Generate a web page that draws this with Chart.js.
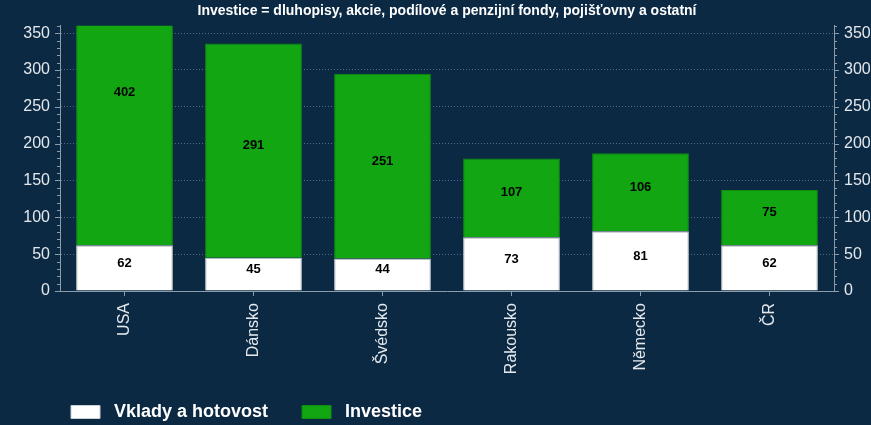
<!DOCTYPE html>
<html>
<head>
<meta charset="utf-8">
<script src="https://cdn.jsdelivr.net/npm/chart.js@4"></script>
<style>
html, body { margin: 0; padding: 0; background: #0b2943; }
#wrap { width: 871px; height: 425px; }
</style>
</head>
<body>
<div id="wrap"><canvas id="chart"></canvas></div>
<script>
const categories = ['USA', 'Dánsko', 'Švédsko', 'Rakousko', 'Německo', 'ČR'];
const vklady = [62, 45, 44, 73, 81, 62];
const investice = [402, 291, 251, 107, 106, 75];
const yTickLabels = [0, 50, 100, 150, 200, 250, 300, 350];
const yMax = 360;
const yMinorStep = 10;

const AXIS = '#8d9cab';
const GRID = '#4f6d88';
const TEXT = '#e4e8ec';
const FONT = '"Liberation Sans", Arial, sans-serif';

// labels in the middle of each stacked segment (full segment, even if clipped)
const segmentLabels = {
    id: 'segmentLabels',
    afterDatasetsDraw(chart) {
        const ctx = chart.ctx;
        const y = chart.scales.y;
        ctx.save();
        ctx.font = 'bold 13px ' + FONT;
        ctx.fillStyle = '#000';
        ctx.textAlign = 'center';
        ctx.textBaseline = 'middle';
        const base = new Array(categories.length).fill(0);
        chart.data.datasets.forEach((ds, di) => {
            const meta = chart.getDatasetMeta(di);
            meta.data.forEach((bar, i) => {
                const v = ds.data[i];
                const mid = base[i] + v / 2;
                base[i] += v;
                ctx.fillText(String(v), bar.x, y.getPixelForValue(mid) - 5);
            });
        });
        ctx.restore();
    }
};

// major and minor tick marks on both value axes
const valueTicks = {
    id: 'valueTicks',
    afterDraw(chart) {
        const ctx = chart.ctx;
        ctx.save();
        ctx.strokeStyle = AXIS;
        ctx.lineWidth = 1;
        ['y', 'y2'].forEach(id => {
            const s = chart.scales[id];
            const x0 = id === 'y' ? s.right : s.left;
            const dir = id === 'y' ? -1 : 1;
            for (let v = 0; v <= yMax; v += yMinorStep) {
                const len = yTickLabels.includes(v) ? 5 : 3;
                const py = Math.round(s.getPixelForValue(v)) + 0.5;
                ctx.beginPath();
                ctx.moveTo(x0, py);
                ctx.lineTo(x0 + dir * len, py);
                ctx.stroke();
            }
        });
        ctx.restore();
    }
};

// place the legend row where it sits in the original
const legendShift = {
    id: 'legendShift',
    afterLayout(chart) {
        const lg = chart.legend;
        if (lg) {
            const pad = chart.options.plugins.legend.labels.padding;
            lg.left = 71 - pad;
            lg.top = 403 - pad;
        }
    }
};

function yAxis(position, onChart, width) {
    return {
        position: position,
        stacked: true,
        min: 0,
        max: yMax,
        afterFit: s => { s.width = width; },
        afterBuildTicks: s => { s.ticks = yTickLabels.map(v => ({ value: v })); },
        grid: {
            drawOnChartArea: onChart,
            drawTicks: false,
            color: c => (c.tick && c.tick.value > 0) ? GRID : 'transparent',
            lineWidth: 1
        },
        border: { color: AXIS, dash: [1, 2] },
        ticks: {
            autoSkip: false,
            padding: 10,
            color: TEXT,
            font: { size: 16, family: FONT }
        }
    };
}

new Chart(document.getElementById('chart'), {
    type: 'bar',
    data: {
        labels: categories,
        datasets: [
            {
                label: 'Vklady a hotovost',
                data: vklady,
                backgroundColor: '#ffffff',
                borderColor: '#c9d0d6',
                borderWidth: 1,
                barPercentage: 0.75,
                categoryPercentage: 1
            },
            {
                label: 'Investice',
                data: investice,
                backgroundColor: '#12a712',
                borderColor: '#0d8f0d',
                borderWidth: 1,
                barPercentage: 0.75,
                categoryPercentage: 1
            }
        ]
    },
    options: {
        responsive: true,
        maintainAspectRatio: false,
        animation: false,
        layout: { padding: { left: 23, right: 0, top: 0, bottom: 0 } },
        scales: {
            x: {
                stacked: true,
                afterFit: s => { s.height = 90; },
                grid: { drawOnChartArea: false, offset: false, tickColor: AXIS, tickLength: 5 },
                border: { color: AXIS },
                ticks: {
                    color: TEXT,
                    minRotation: 90,
                    maxRotation: 90,
                    padding: 7,
                    font: { size: 16, family: FONT }
                }
            },
            y: yAxis('left', true, 37),
            y2: yAxis('right', false, 37)
        },
        plugins: {
            title: {
                display: true,
                text: 'Investice = dluhopisy, akcie, podílové a penzijní fondy, pojišťovny a ostatní',
                color: '#ffffff',
                font: { size: 14, weight: 'bold', family: FONT },
                padding: { top: 3, bottom: 6 }
            },
            legend: {
                position: 'bottom',
                align: 'start',
                maxHeight: 44,
                labels: {
                    color: '#ffffff',
                    boxWidth: 29,
                    boxHeight: 13,
                    padding: 34,
                    font: { size: 18, weight: 'bold', family: FONT },
                    generateLabels: chart => Chart.defaults.plugins.legend.labels.generateLabels(chart)
                        .map(item => Object.assign(item, { text: ' ' + item.text }))
                }
            },
            tooltip: { enabled: false }
        }
    },
    plugins: [segmentLabels, valueTicks, legendShift]
});
</script>
</body>
</html>
